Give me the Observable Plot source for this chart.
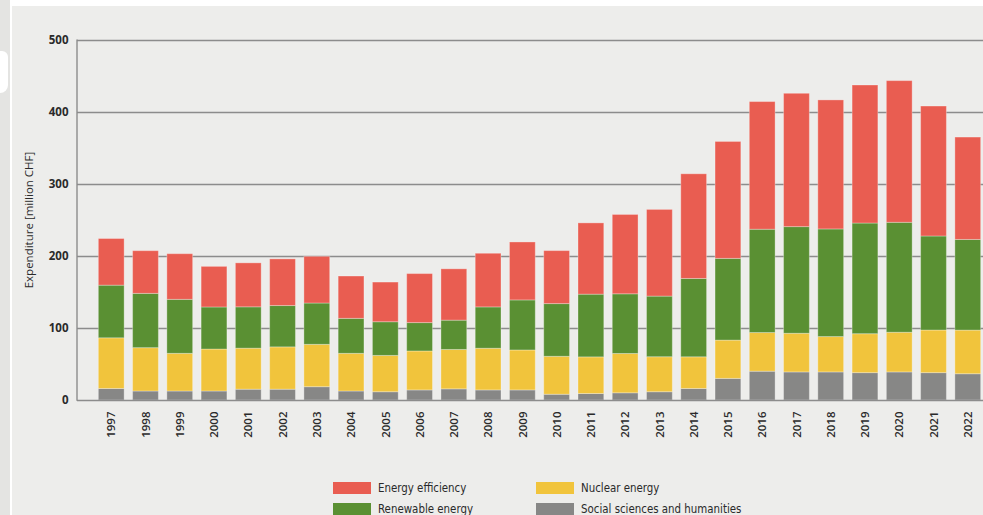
<!DOCTYPE html>
<html>
<head>
<meta charset="utf-8">
<script src="https://cdn.jsdelivr.net/npm/d3@7"></script>
<script src="https://cdn.jsdelivr.net/npm/@observablehq/plot@0.6"></script>
<style>
  html, body { margin: 0; padding: 0; background: #ffffff; width: 983px; height: 515px; overflow: hidden; }
  #strip { position: absolute; left: 0; top: 0; width: 10px; height: 515px; background: #e4e4e2; }
  #blob { position: absolute; left: 0; top: 51px; width: 8px; height: 42px; background: #ffffff; border-radius: 0 6px 8px 0; }
  #bg { position: absolute; left: 12px; top: 6px; right: 0; bottom: 0; background: #ededeb; }
  #chart { position: absolute; left: 0; top: 0; }
  #legend { position: absolute; left: 333px; top: 481px; font-family: "Liberation Sans Narrow", "DejaVu Sans Condensed", "Liberation Sans", sans-serif; font-size: 11.4px; color: #2a2a2a; }
  .item { position: absolute; white-space: nowrap; height: 14px; line-height: 14px; }
  .sw { display: inline-block; width: 38px; height: 12px; vertical-align: top; margin-top: 1px; margin-right: 7px; }
</style>
</head>
<body>
<div id="strip"></div>
<div id="blob"></div>
<div id="bg"></div>
<div id="chart"></div>
<div id="legend"></div>
<script>
const years = ["1997","1998","1999","2000","2001","2002","2003","2004","2005","2006","2007","2008","2009","2010","2011","2012","2013","2014","2015","2016","2017","2018","2019","2020","2021","2022"];
const series = ["Social sciences and humanities", "Nuclear energy", "Renewable energy", "Energy efficiency"];
const colors = ["#878786", "#f1c43c", "#5a9033", "#e95d51"];
const social = [16,12.5,12.5,12.5,15,15,18.5,12.5,11.5,14,15.5,14,14,8,9,10,11.5,16,30,40,39,39,38,39,38,36.5];
const nuclear = [70.4,60.2,52.3,58.3,57,58.8,58.8,52.3,50.4,54.1,54.7,57.9,55.5,52.7,50.9,54.6,48.6,44,53.2,53.7,53.7,49.1,54.1,55.1,59.2,60.6];
const renewable = [73.1,75.4,75,58.4,57.4,57.4,57.4,48.6,46.8,39.4,40.7,57.4,69.5,73.2,87.1,82.9,84.2,108.8,113.5,143.5,148.1,149.5,153.7,152.7,130.6,125.9];
const efficiency = [64.8,59.3,63.4,56.4,61.1,64.8,64.8,58.8,55.1,68.1,71.3,74.5,80.5,73.6,99,110.2,120.4,145.4,162.4,177.3,185.2,179.2,191.7,196.8,180.5,142.2];
const yTicks = [0,100,200,300,400,500];
const yLabel = "Expenditure [million CHF]";
const legendOrder = ["Energy efficiency", "Nuclear energy", "Renewable energy", "Social sciences and humanities"];

const valuesBySeries = [social, nuclear, renewable, efficiency];
const rows = [];
series.forEach((s, i) => years.forEach((y, j) => rows.push({year: y, series: s, value: valuesBySeries[i][j]})));

const chart = Plot.plot({
  width: 983,
  height: 450,
  marginTop: 40,
  marginBottom: 50,
  marginLeft: 77,
  marginRight: 0,
  style: {background: "transparent", fontFamily: "'Open Sans', 'Liberation Sans', sans-serif", color: "#2a2a2a"},
  x: {domain: years, range: [94.1, 984.9], paddingInner: 0.247, paddingOuter: 0.1235, round: false, label: null},
  y: {domain: [0, 500], label: null},
  color: {domain: series, range: colors},
  marks: [
    Plot.ruleY(yTicks.slice(1), {stroke: "#8c8c8c", strokeWidth: 1.3}),
    Plot.barY(rows, Plot.stackY({order: series}, {x: "year", y: "value", fill: "series", stroke: "#ffffff", strokeOpacity: 0.3, strokeWidth: 1})),
    Plot.ruleY([0], {stroke: "#8c8c8c", strokeWidth: 1.6}),
    Plot.axisY({ticks: yTicks, tickSize: 0, tickPadding: 9, fontSize: 11.5, fontWeight: 700, label: null}),
    Plot.axisX({tickSize: 0, tickPadding: 11, tickRotate: -90, fontSize: 11.5, fontWeight: 600, label: null})
  ]
});

// left axis line and y-axis title, positioned with Plot's own y scale
const ys = chart.scale("y");
const svg = d3.select(chart);
svg.append("line")
  .attr("x1", 77).attr("x2", 77)
  .attr("y1", ys.apply(0) + 0.8).attr("y2", ys.apply(500) - 0.6)
  .attr("stroke", "#8c8c8c").attr("stroke-width", 1.4);
svg.append("text")
  .attr("transform", `translate(29,${(ys.apply(0) + ys.apply(500)) / 2}) rotate(-90)`)
  .attr("text-anchor", "middle").attr("dy", "0.35em")
  .attr("font-size", 11.5).attr("font-weight", 400).attr("fill", "#2a2a2a")
  .text(yLabel);
document.getElementById("chart").appendChild(chart);

const legend = document.getElementById("legend");
legendOrder.forEach((name, k) => {
  const item = document.createElement("div");
  item.className = "item";
  item.style.left = (k % 2 === 0 ? 0 : 203) + "px";
  item.style.top = (Math.floor(k / 2) * 21) + "px";
  const sw = document.createElement("span");
  sw.className = "sw";
  sw.style.background = colors[series.indexOf(name)];
  item.appendChild(sw);
  item.appendChild(document.createTextNode(name));
  legend.appendChild(item);
});
</script>
</body>
</html>
